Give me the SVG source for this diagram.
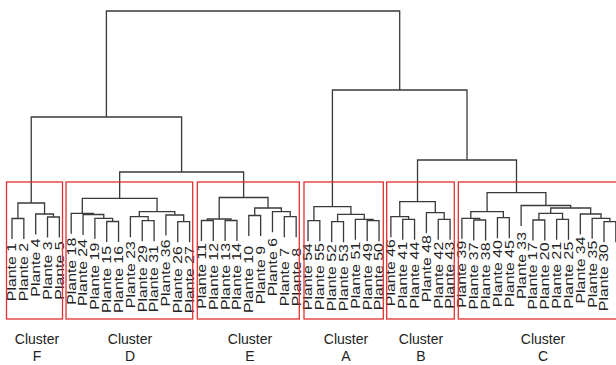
<svg xmlns="http://www.w3.org/2000/svg" width="616" height="365" viewBox="0 0 616 365">
<style>
.ln{fill:none;stroke:#3a3a3a;stroke-width:1.3}
.box{fill:none;stroke:#e53030;stroke-width:1.3}
.lbl{font-family:"Liberation Sans",Arial,sans-serif;font-size:12.5px;fill:#222;text-anchor:end}
.cl{font-family:"Liberation Sans",Arial,sans-serif;font-size:14px;fill:#222;text-anchor:middle}
</style>
<rect width="616" height="365" fill="#fff"/>
<g id="connectors">
<path class="ln" d="M12 239V218.5H23.84V239"/>
<path class="ln" d="M47.52 237.5V217H59.36V237.5"/>
<path class="ln" d="M35.68 234.5V214H53.44V217"/>
<path class="ln" d="M17.92 218.5V203H44.56V214"/>
<path class="ln" d="M106.72 242V221.5H118.56V242"/>
<path class="ln" d="M94.88 238.8V218.3H112.64V221.5"/>
<path class="ln" d="M83.04 235V214.5H103.76V218.3"/>
<path class="ln" d="M71.2 233.8V213.3H93.4V214.5"/>
<path class="ln" d="M142.24 241.2V220.7H154.08V241.2"/>
<path class="ln" d="M130.4 237.2V216.7H148.16V220.7"/>
<path class="ln" d="M177.76 242.2V221.7H189.6V242.2"/>
<path class="ln" d="M165.92 235.5V215H183.68V221.7"/>
<path class="ln" d="M139.28 216.7V211.7H174.8V215"/>
<path class="ln" d="M82.3 213.3V198.3H157.04V211.7"/>
<path class="ln" d="M201.44 241V220.5H213.28V241"/>
<path class="ln" d="M225.12 241V220.5H236.96V241"/>
<path class="ln" d="M207.36 220.5V219H231.04V220.5"/>
<path class="ln" d="M248.8 236V215.5H260.64V236"/>
<path class="ln" d="M284.32 237.2V216.7H296.16V237.2"/>
<path class="ln" d="M272.48 232.2V211.7H290.24V216.7"/>
<path class="ln" d="M254.72 215.5V208H281.36V211.7"/>
<path class="ln" d="M219.2 219V197.5H268.04V208"/>
<path class="ln" d="M119.67 198.3V172H243.62V197.5"/>
<path class="ln" d="M31.24 203V117H181.6V172"/>
<path class="ln" d="M308 241.2V220.7H319.84V241.2"/>
<path class="ln" d="M331.68 242.2V221.7H343.52V242.2"/>
<path class="ln" d="M367.2 241.2V220.7H379.04V241.2"/>
<path class="ln" d="M355.36 239.8V219.3H373.12V220.7"/>
<path class="ln" d="M337.6 221.7V214.3H364.24V219.3"/>
<path class="ln" d="M313.92 220.7V206.7H350.92V214.3"/>
<path class="ln" d="M402.72 239.8V219.3H414.56V239.8"/>
<path class="ln" d="M390.88 237.2V216.7H408.64V219.3"/>
<path class="ln" d="M438.24 239.8V219.3H450.08V239.8"/>
<path class="ln" d="M426.4 233.2V212.7H444.16V219.3"/>
<path class="ln" d="M399.76 216.7V201.7H435.28V212.7"/>
<path class="ln" d="M473.76 240.5V220H485.6V240.5"/>
<path class="ln" d="M461.92 238.8V218.3H479.68V220"/>
<path class="ln" d="M497.44 238.2V217.7H509.28V238.2"/>
<path class="ln" d="M470.8 218.3V211.7H503.36V217.7"/>
<path class="ln" d="M532.96 240.5V220H544.8V240.5"/>
<path class="ln" d="M556.64 239.8V219.3H568.48V239.8"/>
<path class="ln" d="M538.88 220V213.3H562.56V219.3"/>
<path class="ln" d="M604 242.2V221.7H615.84V242.2"/>
<path class="ln" d="M592.16 238.8V218.3H609.92V221.7"/>
<path class="ln" d="M580.32 234.5V214H601.04V218.3"/>
<path class="ln" d="M550.72 213.3V208H590.68V214"/>
<path class="ln" d="M521.12 226V205.5H570.7V208"/>
<path class="ln" d="M487.08 211.7V192.7H545.91V205.5"/>
<path class="ln" d="M417.52 201.7V160H516.5V192.7"/>
<path class="ln" d="M332.42 206.7V90H467.01V160"/>
<path class="ln" d="M106.4 117V11H399.7V90"/>
</g>
<g id="leaves">
<g id="p1"><text class="lbl" dy="0.35em" transform="translate(12,243) rotate(-90) scale(1.27,1)">Plante 1</text></g>
<g id="p2"><text class="lbl" dy="0.35em" transform="translate(23.84,243) rotate(-90) scale(1.27,1)">Plante 2</text></g>
<g id="p4"><text class="lbl" dy="0.35em" transform="translate(35.68,238.5) rotate(-90) scale(1.27,1)">Plante 4</text></g>
<g id="p3"><text class="lbl" dy="0.35em" transform="translate(47.52,241.5) rotate(-90) scale(1.27,1)">Plante 3</text></g>
<g id="p5"><text class="lbl" dy="0.35em" transform="translate(59.36,241.5) rotate(-90) scale(1.27,1)">Plante 5</text></g>
<g id="p18"><text class="lbl" dy="0.35em" transform="translate(71.2,237.8) rotate(-90) scale(1.27,1)">Plante 18</text></g>
<g id="p24"><text class="lbl" dy="0.35em" transform="translate(83.04,239) rotate(-90) scale(1.27,1)">Plante 24</text></g>
<g id="p19"><text class="lbl" dy="0.35em" transform="translate(94.88,242.8) rotate(-90) scale(1.27,1)">Plante 19</text></g>
<g id="p15"><text class="lbl" dy="0.35em" transform="translate(106.72,246) rotate(-90) scale(1.27,1)">Plante 15</text></g>
<g id="p16"><text class="lbl" dy="0.35em" transform="translate(118.56,246) rotate(-90) scale(1.27,1)">Plante 16</text></g>
<g id="p23"><text class="lbl" dy="0.35em" transform="translate(130.4,241.2) rotate(-90) scale(1.27,1)">Plante 23</text></g>
<g id="p29"><text class="lbl" dy="0.35em" transform="translate(142.24,245.2) rotate(-90) scale(1.27,1)">Plante 29</text></g>
<g id="p31"><text class="lbl" dy="0.35em" transform="translate(154.08,245.2) rotate(-90) scale(1.27,1)">Plante 31</text></g>
<g id="p36"><text class="lbl" dy="0.35em" transform="translate(165.92,239.5) rotate(-90) scale(1.27,1)">Plante 36</text></g>
<g id="p26"><text class="lbl" dy="0.35em" transform="translate(177.76,246.2) rotate(-90) scale(1.27,1)">Plante 26</text></g>
<g id="p27"><text class="lbl" dy="0.35em" transform="translate(189.6,246.2) rotate(-90) scale(1.27,1)">Plante 27</text></g>
<g id="p11"><text class="lbl" dy="0.35em" transform="translate(201.44,243) rotate(-90) scale(1.27,1)">Plante 11</text></g>
<g id="p12"><text class="lbl" dy="0.35em" transform="translate(213.28,243) rotate(-90) scale(1.27,1)">Plante 12</text></g>
<g id="p13"><text class="lbl" dy="0.35em" transform="translate(225.12,243) rotate(-90) scale(1.27,1)">Plante 13</text></g>
<g id="p14"><text class="lbl" dy="0.35em" transform="translate(236.96,243) rotate(-90) scale(1.27,1)">Plante 14</text></g>
<g id="p10"><text class="lbl" dy="0.35em" transform="translate(248.8,246) rotate(-90) scale(1.27,1)">Plante 10</text></g>
<g id="p9"><text class="lbl" dy="0.35em" transform="translate(260.64,246) rotate(-90) scale(1.27,1)">Plante 9</text></g>
<g id="p6"><text class="lbl" dy="0.35em" transform="translate(272.48,238) rotate(-90) scale(1.27,1)">Plante 6</text></g>
<g id="p7"><text class="lbl" dy="0.35em" transform="translate(284.32,248) rotate(-90) scale(1.27,1)">Plante 7</text></g>
<g id="p8"><text class="lbl" dy="0.35em" transform="translate(296.16,248) rotate(-90) scale(1.27,1)">Plante 8</text></g>
<g id="p54"><text class="lbl" dy="0.35em" transform="translate(308,243.2) rotate(-90) scale(1.27,1)">Plante 54</text></g>
<g id="p55"><text class="lbl" dy="0.35em" transform="translate(319.84,243.2) rotate(-90) scale(1.27,1)">Plante 55</text></g>
<g id="p52"><text class="lbl" dy="0.35em" transform="translate(331.68,244.2) rotate(-90) scale(1.27,1)">Plante 52</text></g>
<g id="p53"><text class="lbl" dy="0.35em" transform="translate(343.52,244.2) rotate(-90) scale(1.27,1)">Plante 53</text></g>
<g id="p51"><text class="lbl" dy="0.35em" transform="translate(355.36,241.8) rotate(-90) scale(1.27,1)">Plante 51</text></g>
<g id="p49"><text class="lbl" dy="0.35em" transform="translate(367.2,243.2) rotate(-90) scale(1.27,1)">Plante 49</text></g>
<g id="p50"><text class="lbl" dy="0.35em" transform="translate(379.04,243.2) rotate(-90) scale(1.27,1)">Plante 50</text></g>
<g id="p46"><text class="lbl" dy="0.35em" transform="translate(390.88,239.2) rotate(-90) scale(1.27,1)">Plante 46</text></g>
<g id="p41"><text class="lbl" dy="0.35em" transform="translate(402.72,241.8) rotate(-90) scale(1.27,1)">Plante 41</text></g>
<g id="p44"><text class="lbl" dy="0.35em" transform="translate(414.56,241.8) rotate(-90) scale(1.27,1)">Plante 44</text></g>
<g id="p48"><text class="lbl" dy="0.35em" transform="translate(426.4,235.2) rotate(-90) scale(1.27,1)">Plante 48</text></g>
<g id="p42"><text class="lbl" dy="0.35em" transform="translate(438.24,241.8) rotate(-90) scale(1.27,1)">Plante 42</text></g>
<g id="p43"><text class="lbl" dy="0.35em" transform="translate(450.08,241.8) rotate(-90) scale(1.27,1)">Plante 43</text></g>
<g id="p39"><text class="lbl" dy="0.35em" transform="translate(461.92,240.8) rotate(-90) scale(1.27,1)">Plante 39</text></g>
<g id="p37"><text class="lbl" dy="0.35em" transform="translate(473.76,242.5) rotate(-90) scale(1.27,1)">Plante 37</text></g>
<g id="p38"><text class="lbl" dy="0.35em" transform="translate(485.6,242.5) rotate(-90) scale(1.27,1)">Plante 38</text></g>
<g id="p40"><text class="lbl" dy="0.35em" transform="translate(497.44,240.2) rotate(-90) scale(1.27,1)">Plante 40</text></g>
<g id="p45"><text class="lbl" dy="0.35em" transform="translate(509.28,240.2) rotate(-90) scale(1.27,1)">Plante 45</text></g>
<g id="p33"><text class="lbl" dy="0.35em" transform="translate(521.12,232) rotate(-90) scale(1.27,1)">Plante 33</text></g>
<g id="p17"><text class="lbl" dy="0.35em" transform="translate(532.96,242.5) rotate(-90) scale(1.27,1)">Plante 17</text></g>
<g id="p20"><text class="lbl" dy="0.35em" transform="translate(544.8,242.5) rotate(-90) scale(1.27,1)">Plante 20</text></g>
<g id="p21"><text class="lbl" dy="0.35em" transform="translate(556.64,241.8) rotate(-90) scale(1.27,1)">Plante 21</text></g>
<g id="p25"><text class="lbl" dy="0.35em" transform="translate(568.48,241.8) rotate(-90) scale(1.27,1)">Plante 25</text></g>
<g id="p34"><text class="lbl" dy="0.35em" transform="translate(580.32,236.5) rotate(-90) scale(1.27,1)">Plante 34</text></g>
<g id="p35"><text class="lbl" dy="0.35em" transform="translate(592.16,240.8) rotate(-90) scale(1.27,1)">Plante 35</text></g>
<g id="p30"><text class="lbl" dy="0.35em" transform="translate(604,244.2) rotate(-90) scale(1.27,1)">Plante 30</text></g>
</g>
<g id="clusters">
<g id="cluster-f"><rect class="box" x="6.5" y="182" width="56" height="137"/><text class="cl" x="37" y="344">Cluster</text><text class="cl" x="37" y="361">F</text></g>
<g id="cluster-d"><rect class="box" x="66" y="182" width="126.7" height="137"/><text class="cl" x="130" y="344">Cluster</text><text class="cl" x="130" y="361">D</text></g>
<g id="cluster-e"><rect class="box" x="197.3" y="182" width="102" height="137"/><text class="cl" x="250" y="344">Cluster</text><text class="cl" x="250" y="361">E</text></g>
<g id="cluster-a"><rect class="box" x="304" y="182" width="79.3" height="137"/><text class="cl" x="346" y="344">Cluster</text><text class="cl" x="346" y="361">A</text></g>
<g id="cluster-b"><rect class="box" x="386.7" y="182" width="67.6" height="137"/><text class="cl" x="421" y="344">Cluster</text><text class="cl" x="421" y="361">B</text></g>
<g id="cluster-c"><rect class="box" x="458.3" y="182" width="166.7" height="137"/><text class="cl" x="543" y="344">Cluster</text><text class="cl" x="543" y="361">C</text></g>
</g>
</svg>
